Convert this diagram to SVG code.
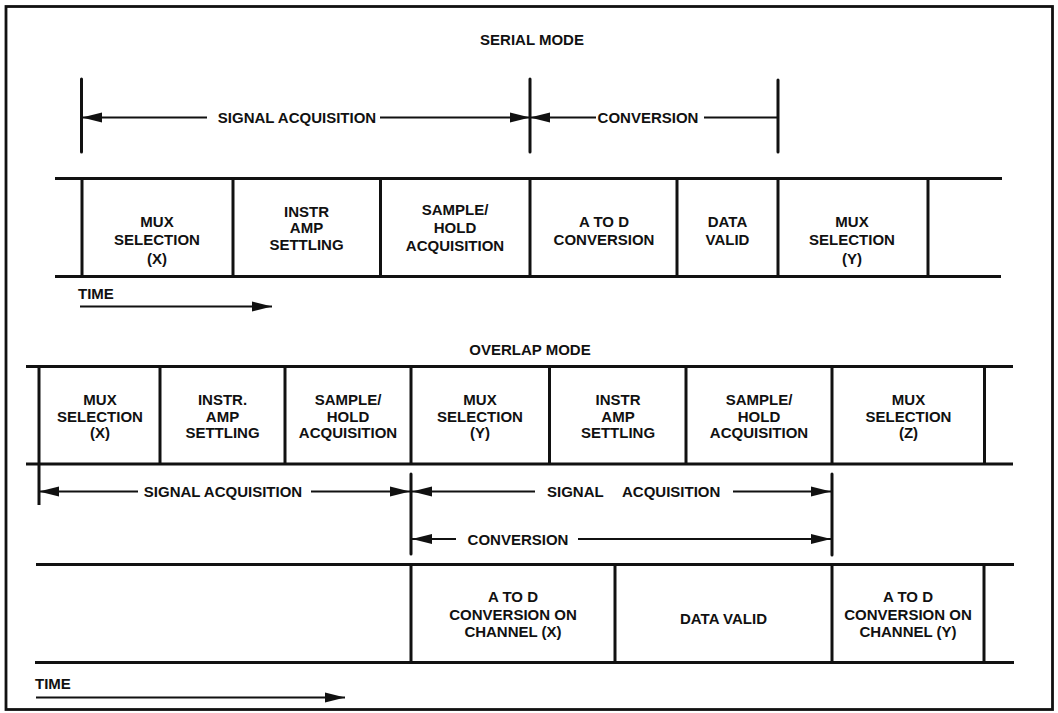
<svg xmlns="http://www.w3.org/2000/svg" width="1058" height="713" viewBox="0 0 1058 713">
  <defs>
    <style>
      text { font-family: "Liberation Sans", Arial, Helvetica, sans-serif; font-weight: bold; font-size: 15px; fill: #111; }
      .c { text-anchor: middle; }
      .frame { fill: none; stroke: #111; stroke-width: 2.8; }
      .rail { stroke: #111; stroke-width: 3; fill: none; }
      .div { stroke: #111; stroke-width: 3; fill: none; }
      .bar { stroke: #111; stroke-width: 3; fill: none; stroke-linecap: round; }
      .dim { stroke: #111; stroke-width: 1.8; fill: none; }
    </style>
    <marker id="head" markerUnits="userSpaceOnUse" markerWidth="20" markerHeight="11" refX="20" refY="5.5" orient="auto-start-reverse" viewBox="0 0 20 11">
      <path d="M0,0.5 L20,5.5 L0,10.5 Z" fill="#111"/>
    </marker>
  </defs>

  <rect width="1058" height="713" fill="#fff"/>
  <rect class="frame" x="6" y="6.5" width="1046.5" height="703"/>

  <!-- ===== Serial mode ===== -->
  <text class="c" x="532" y="45">SERIAL MODE</text>

  <g id="serial-rails">
    <line class="rail" x1="55" y1="178.5" x2="1002" y2="178.5"/>
    <line class="rail" x1="55" y1="276.5" x2="1001" y2="276.5"/>
  </g>

  <g id="s-mux-x">
    <line class="div" x1="82" y1="178" x2="82" y2="277"/>
    <text class="c" x="157" y="227">MUX</text>
    <text class="c" x="157" y="245">SELECTION</text>
    <text class="c" x="157" y="264">(X)</text>
  </g>
  <g id="s-instr-amp">
    <line class="div" x1="233" y1="178" x2="233" y2="277"/>
    <text class="c" x="306.5" y="217">INSTR</text>
    <text class="c" x="306.5" y="233">AMP</text>
    <text class="c" x="306.5" y="250">SETTLING</text>
  </g>
  <g id="s-sample-hold">
    <line class="div" x1="380.5" y1="178" x2="380.5" y2="277"/>
    <text class="c" x="455" y="215">SAMPLE/</text>
    <text class="c" x="455" y="233">HOLD</text>
    <text class="c" x="455" y="251">ACQUISITION</text>
  </g>
  <g id="s-a-to-d">
    <line class="div" x1="530" y1="178" x2="530" y2="277"/>
    <text class="c" x="604" y="227">A TO D</text>
    <text class="c" x="604" y="245">CONVERSION</text>
  </g>
  <g id="s-data-valid">
    <line class="div" x1="677" y1="178" x2="677" y2="277"/>
    <text class="c" x="727.5" y="227">DATA</text>
    <text class="c" x="727.5" y="245">VALID</text>
  </g>
  <g id="s-mux-y">
    <line class="div" x1="778" y1="178" x2="778" y2="277"/>
    <text class="c" x="852" y="227">MUX</text>
    <text class="c" x="852" y="245">SELECTION</text>
    <text class="c" x="852" y="264">(Y)</text>
  </g>
  <g id="s-next">
    <line class="div" x1="928" y1="178" x2="928" y2="277"/>
  </g>

  <g id="s-time">
    <text x="78" y="299">TIME</text>
  </g>

  <!-- ===== Overlap mode ===== -->
  <text class="c" x="530" y="355">OVERLAP MODE</text>

  <g id="overlap-rails">
    <line class="rail" x1="26" y1="366.5" x2="1013" y2="366.5"/>
    <line class="rail" x1="26" y1="464" x2="1013" y2="464"/>
    <line class="rail" x1="36" y1="564.5" x2="1014" y2="564.5"/>
    <line class="rail" x1="35" y1="662.5" x2="1014" y2="662.5"/>
  </g>

  <g id="o-mux-x">
    <line class="div" x1="39" y1="366" x2="39" y2="505"/>
    <text class="c" x="100" y="405">MUX</text>
    <text class="c" x="100" y="421.5">SELECTION</text>
    <text class="c" x="100" y="437.5">(X)</text>
  </g>
  <g id="o-instr-amp-1">
    <line class="div" x1="160" y1="366" x2="160" y2="464.5"/>
    <text class="c" x="222.5" y="405">INSTR.</text>
    <text class="c" x="222.5" y="421.5">AMP</text>
    <text class="c" x="222.5" y="437.5">SETTLING</text>
  </g>
  <g id="o-sample-hold-1">
    <line class="div" x1="285" y1="366" x2="285" y2="464.5"/>
    <text class="c" x="348" y="405">SAMPLE/</text>
    <text class="c" x="348" y="421.5">HOLD</text>
    <text class="c" x="348" y="438">ACQUISITION</text>
  </g>
  <g id="o-mux-y">
    <line class="div" x1="411" y1="366" x2="411" y2="464.5"/>
    <text class="c" x="480" y="405">MUX</text>
    <text class="c" x="480" y="421.5">SELECTION</text>
    <text class="c" x="480" y="437.5">(Y)</text>
  </g>
  <g id="o-instr-amp-2">
    <line class="div" x1="549.5" y1="366" x2="549.5" y2="464.5"/>
    <text class="c" x="618" y="405">INSTR</text>
    <text class="c" x="618" y="421.5">AMP</text>
    <text class="c" x="618" y="437.5">SETTLING</text>
  </g>
  <g id="o-sample-hold-2">
    <line class="div" x1="686" y1="366" x2="686" y2="464.5"/>
    <text class="c" x="759" y="405">SAMPLE/</text>
    <text class="c" x="759" y="421.5">HOLD</text>
    <text class="c" x="759" y="438">ACQUISITION</text>
  </g>
  <g id="o-mux-z">
    <line class="div" x1="832" y1="366" x2="832" y2="464.5"/>
    <text class="c" x="908.5" y="405">MUX</text>
    <text class="c" x="908.5" y="421.5">SELECTION</text>
    <text class="c" x="908.5" y="437.5">(Z)</text>
  </g>
  <g id="o-next-1">
    <line class="div" x1="984.5" y1="366" x2="984.5" y2="464.5"/>
  </g>

  <g id="o-conv-x">
    <line class="div" x1="411" y1="564" x2="411" y2="663"/>
    <text class="c" x="513" y="602">A TO D</text>
    <text class="c" x="513" y="619.5">CONVERSION ON</text>
    <text class="c" x="513" y="637">CHANNEL (X)</text>
  </g>
  <g id="o-data-valid">
    <line class="div" x1="615" y1="564" x2="615" y2="663"/>
    <text class="c" x="723.5" y="624">DATA VALID</text>
  </g>
  <g id="o-conv-y">
    <line class="div" x1="832" y1="564" x2="832" y2="663"/>
    <text class="c" x="908" y="602">A TO D</text>
    <text class="c" x="908" y="619.5">CONVERSION ON</text>
    <text class="c" x="908" y="637">CHANNEL (Y)</text>
  </g>
  <g id="o-next-2">
    <line class="div" x1="984" y1="564" x2="984" y2="663"/>
  </g>

  <g id="o-time">
    <text x="35" y="688.5">TIME</text>
  </g>

  <!-- ===== Interval markers and arrows ===== -->
  <g id="connectors">
    <!-- serial interval bars -->
    <line class="bar" x1="81.5" y1="79" x2="81.5" y2="152"/>
    <line class="bar" x1="530" y1="79" x2="530" y2="152"/>
    <line class="bar" x1="778" y1="80" x2="778" y2="152"/>

    <!-- serial: signal acquisition -->
    <line class="dim" x1="82" y1="117.5" x2="207" y2="117.5" marker-start="url(#head)"/>
    <text class="c" x="297" y="123">SIGNAL ACQUISITION</text>
    <line class="dim" x1="380" y1="117.5" x2="530" y2="117.5" marker-end="url(#head)"/>

    <!-- serial: conversion -->
    <line class="dim" x1="530" y1="117.5" x2="596" y2="117.5" marker-start="url(#head)"/>
    <text class="c" x="648" y="123">CONVERSION</text>
    <line class="dim" x1="704" y1="117.5" x2="778" y2="117.5"/>

    <!-- serial time axis -->
    <line class="dim" x1="80" y1="306.5" x2="272" y2="306.5" marker-end="url(#head)"/>

    <!-- overlap interval bars -->
    <line class="bar" x1="411" y1="474" x2="411" y2="554"/>
    <line class="bar" x1="832" y1="474" x2="832" y2="555"/>

    <!-- overlap: first signal acquisition -->
    <line class="dim" x1="39" y1="491.5" x2="138" y2="491.5" marker-start="url(#head)"/>
    <text class="c" x="223" y="497">SIGNAL ACQUISITION</text>
    <line class="dim" x1="311" y1="491.5" x2="410" y2="491.5" marker-end="url(#head)"/>

    <!-- overlap: second signal acquisition -->
    <line class="dim" x1="412" y1="491.5" x2="535" y2="491.5" marker-start="url(#head)"/>
    <text x="547" y="497">SIGNAL</text>
    <text x="622" y="497">ACQUISITION</text>
    <line class="dim" x1="733" y1="491.5" x2="831" y2="491.5" marker-end="url(#head)"/>

    <!-- overlap: conversion -->
    <line class="dim" x1="412" y1="539" x2="456" y2="539" marker-start="url(#head)"/>
    <text class="c" x="518" y="544.5">CONVERSION</text>
    <line class="dim" x1="578" y1="539" x2="831" y2="539" marker-end="url(#head)"/>

    <!-- overlap time axis -->
    <line class="dim" x1="36" y1="697.5" x2="345" y2="697.5" marker-end="url(#head)"/>
  </g>
</svg>
